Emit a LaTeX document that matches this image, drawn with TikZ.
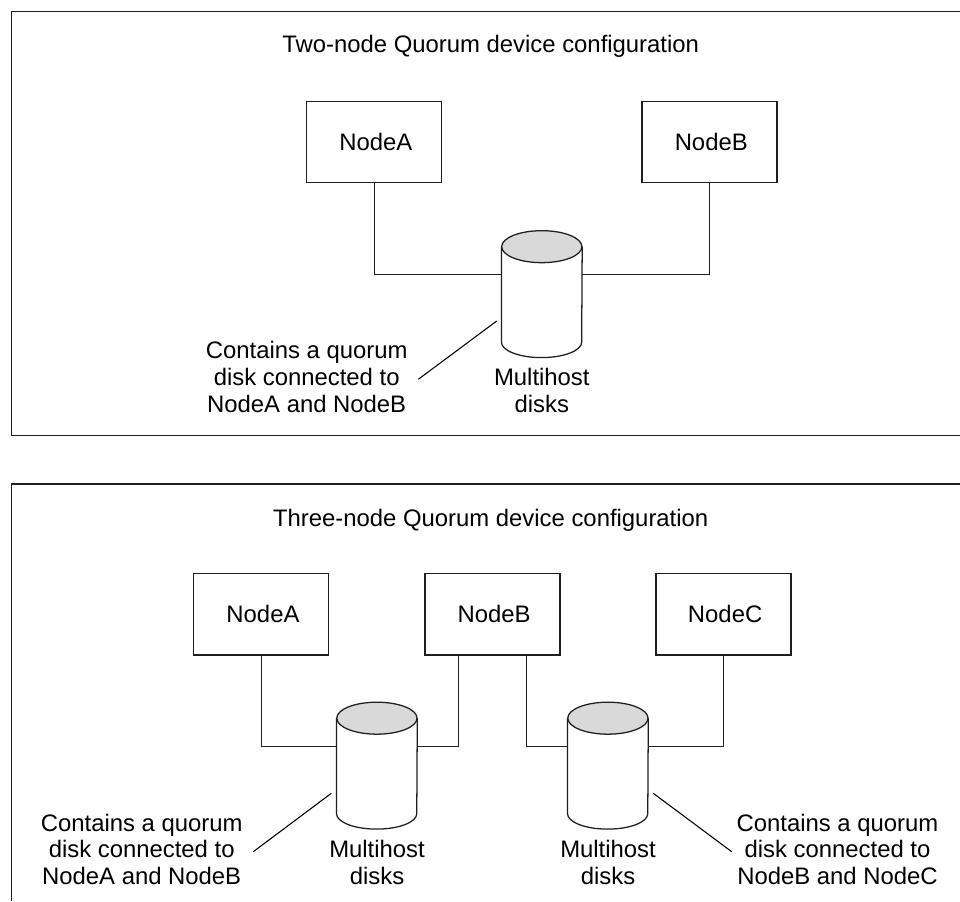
\documentclass[tikz,border=0pt]{standalone}
\usepackage{fontspec}
\setmainfont{Liberation Sans}
\definecolor{diskgrey}{gray}{0.85}
\definecolor{inkline}{gray}{0.12}
\tikzset{
  linework/.style={draw=inkline,line width=0.95pt,line join=miter},
  thinlead/.style={draw=black,line width=0.8pt},
  nodebox/.style={linework,rectangle,minimum width=101.3pt,minimum height=61pt,inner sep=0pt,
     font=\fontsize{17.9}{19.7}\selectfont,execute at begin node={\hspace*{2.6pt}}},
  lab/.style={align=center,inner sep=0pt,anchor=base,font=\fontsize{17.9}{19.7}\selectfont},
  diskbody/.style={rectangle,inner sep=0pt,minimum width=60.2pt,minimum height=71.2pt},
}
\newcommand{\diskat}[3]{%
  \node[diskbody] (#1) at (#2,#3+47.4) {};
  \draw[linework,fill=diskgrey] (#1.north) ellipse [x radius=30.1pt,y radius=12pt];
  \draw[linework] (#1.north west) -- (#1.south west)
     arc [start angle=180,end angle=360,x radius=30.1pt,y radius=11.6pt] -- (#1.north east);
}
\begin{document}
\begin{tikzpicture}[x=0.75pt,y=-0.75pt]
\useasboundingbox (0,0) rectangle (960,901);
\fill[white] (0,0) rectangle (960,901);
% frames
\draw[linework] (960,11.5) -- (11.4,11.5) -- (11.4,435.6) -- (960,435.6);
\draw[linework] (960,484) -- (11.4,484) -- (11.4,901);
% top panel
\node[lab] (title1) at (490.7,52.7) {Two-node Quorum device configuration};
\node[nodebox] (a1) at (374.2,141.8) {NodeA};
\node[nodebox] (b1) at (709.5,141.8) {NodeB};
\diskat{d1}{541.8}{247}
\draw[linework] (a1.south) |- ([yshift=14.93pt]d1.west);
\draw[linework] (b1.south) |- ([yshift=14.93pt]d1.east);
\node[lab] (m1) at (541.8,385.7) {Multihost};
\node[lab] (m1b) at (541.8,412) {disks};
\node[lab] (c1a) at (306.7,358.3) {Contains a quorum};
\node[lab] (c1b) at (306.7,385.7) {disk connected to};
\node[lab] (c1c) at (306.7,412) {NodeA and NodeB};
\coordinate (l1a) at (496.7,321);
\coordinate (l1b) at (418.3,379.3);
\draw[thinlead] (l1a) -- (l1b);
% bottom panel
\node[lab] (title2) at (490.7,526) {Three-node Quorum device configuration};
\node[nodebox] (a2) at (261.25,614.3) {NodeA};
\node[nodebox] (b2) at (492.4,614.3) {NodeB};
\node[nodebox] (c2) at (723.4,614.3) {NodeC};
\diskat{d2}{376.9}{718.5}
\diskat{d3}{607.9}{718.5}
\coordinate (p2l) at (458.7,655);
\coordinate (p3r) at (526.4,655);
\draw[linework] (a2.south) |- ([yshift=14.55pt]d2.west);
\draw[linework] (p2l) |- ([yshift=14.55pt]d2.east);
\draw[linework] (p3r) |- ([yshift=14.55pt]d3.west);
\draw[linework] (c2.south) |- ([yshift=14.55pt]d3.east);
\node[lab] (m2) at (377,857.6) {Multihost};
\node[lab] (m2b) at (377,884.3) {disks};
\node[lab] (m3) at (608,857.6) {Multihost};
\node[lab] (m3b) at (608,884.3) {disks};
\node[lab] (c2a) at (141.7,831.7) {Contains a quorum};
\node[lab] (c2b) at (141.7,857.6) {disk connected to};
\node[lab] (c2c) at (141.7,884.3) {NodeA and NodeB};
\node[lab] (c3a) at (837.5,831.7) {Contains a quorum};
\node[lab] (c3b) at (837.5,857.6) {disk connected to};
\node[lab] (c3c) at (837.5,884.3) {NodeB and NodeC};
\coordinate (l2a) at (331.3,793.3);
\coordinate (l2b) at (253.3,851.7);
\coordinate (l3a) at (653.3,793.3);
\coordinate (l3b) at (731.7,851.7);
\draw[thinlead] (l2a) -- (l2b);
\draw[thinlead] (l3a) -- (l3b);
\end{tikzpicture}
\end{document}
